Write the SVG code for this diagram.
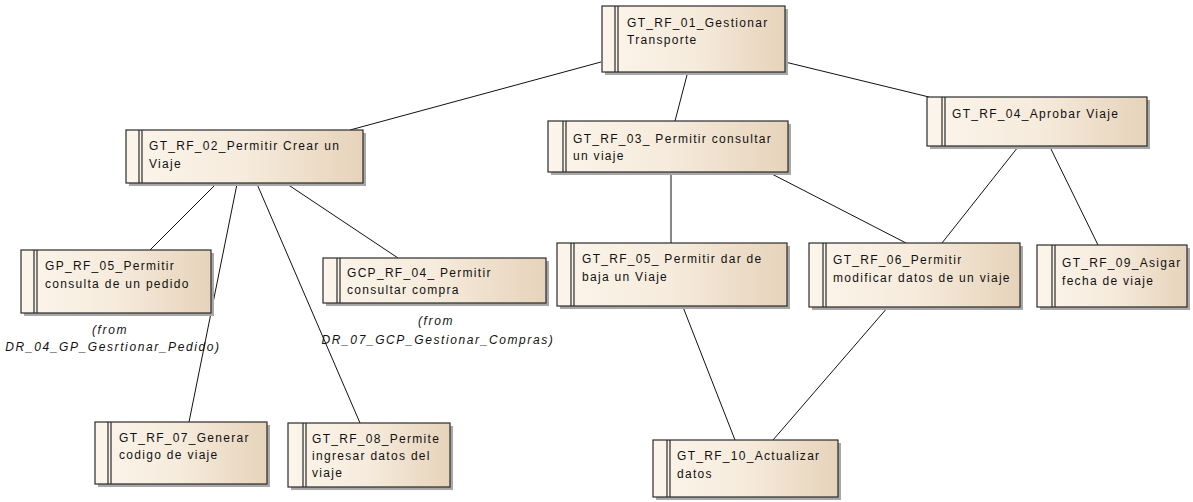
<svg xmlns="http://www.w3.org/2000/svg" width="1193" height="502" viewBox="0 0 1193 502">
<defs>
<linearGradient id="fillg" x1="0" y1="0" x2="1" y2="0">
<stop offset="0" stop-color="#FCF5EB"/>
<stop offset="0.5" stop-color="#F6EBDC"/>
<stop offset="1" stop-color="#E6D3BA"/>
</linearGradient>
</defs>
<style>
.shadow{fill:#A8A8A8;}
.box{fill:url(#fillg);stroke:#2b2b2b;stroke-width:1.2;}
.bar{stroke:#2b2b2b;stroke-width:1.2;}
.lbl{font-family:"Liberation Sans",Arial,sans-serif;font-size:12px;letter-spacing:1.3px;fill:#111;}
.from{font-family:"Liberation Sans",Arial,sans-serif;font-size:12px;font-style:italic;letter-spacing:1.6px;fill:#111;text-anchor:middle;}
.conn line{stroke:#111;stroke-width:1;}
</style>
<rect width="1193" height="502" fill="#ffffff"/>

<g id="connectors" class="conn">
<line x1="601" y1="62" x2="350" y2="130"/>
<line x1="687" y1="75" x2="675" y2="121"/>
<line x1="785" y1="62" x2="929" y2="97"/>
<line x1="216" y1="184" x2="150" y2="250"/>
<line x1="237" y1="184" x2="189" y2="422"/>
<line x1="257" y1="184" x2="360" y2="423"/>
<line x1="287" y1="184" x2="398" y2="258"/>
<line x1="671" y1="172" x2="671" y2="243"/>
<line x1="768" y1="172" x2="906" y2="243"/>
<line x1="1018" y1="147" x2="942" y2="243"/>
<line x1="1050" y1="147" x2="1098" y2="245"/>
<line x1="683" y1="307" x2="735" y2="440"/>
<line x1="888" y1="307" x2="773" y2="440"/>
</g>

<g id="GT_RF_01">
<rect class="shadow" x="605" y="9" width="183" height="66"/>
<rect class="box" x="602" y="6" width="183" height="66"/>
<line class="bar" x1="615" y1="6" x2="615" y2="72"/><line class="bar" x1="618" y1="6" x2="618" y2="72"/>
<text class="lbl" x="627" y="27">GT_RF_01_Gestionar</text>
<text class="lbl" x="627" y="44">Transporte</text>
</g>

<g id="GT_RF_02">
<rect class="shadow" x="129" y="133" width="237" height="53"/>
<rect class="box" x="126" y="130" width="237" height="53"/>
<line class="bar" x1="139" y1="130" x2="139" y2="183"/><line class="bar" x1="142" y1="130" x2="142" y2="183"/>
<text class="lbl" x="149" y="150">GT_RF_02_Permitir Crear un</text>
<text class="lbl" x="149" y="168">Viaje</text>
</g>

<g id="GT_RF_03">
<rect class="shadow" x="551" y="124" width="240" height="51"/>
<rect class="box" x="548" y="121" width="240" height="51"/>
<line class="bar" x1="563" y1="121" x2="563" y2="172"/><line class="bar" x1="566" y1="121" x2="566" y2="172"/>
<text class="lbl" x="573" y="143">GT_RF_03_ Permitir consultar</text>
<text class="lbl" x="573" y="160">un viaje</text>
</g>

<g id="GT_RF_04">
<rect class="shadow" x="930" y="100" width="220" height="49"/>
<rect class="box" x="927" y="97" width="220" height="49"/>
<line class="bar" x1="942" y1="97" x2="942" y2="146"/><line class="bar" x1="945" y1="97" x2="945" y2="146"/>
<text class="lbl" x="952" y="118">GT_RF_04_Aprobar Viaje</text>
</g>

<g id="GP_RF_05">
<rect class="shadow" x="24" y="253" width="190" height="63"/>
<rect class="box" x="21" y="250" width="190" height="63"/>
<line class="bar" x1="34" y1="250" x2="34" y2="313"/><line class="bar" x1="37" y1="250" x2="37" y2="313"/>
<text class="lbl" x="45" y="270">GP_RF_05_Permitir</text>
<text class="lbl" x="45" y="288">consulta de un pedido</text>
<text class="from" x="110" y="334">(from</text>
<text class="from" x="113" y="351">DR_04_GP_Gesrtionar_Pedido)</text>
</g>

<g id="GCP_RF_04">
<rect class="shadow" x="326" y="261" width="223" height="45"/>
<rect class="box" x="323" y="258" width="223" height="45"/>
<line class="bar" x1="337" y1="258" x2="337" y2="303"/><line class="bar" x1="340" y1="258" x2="340" y2="303"/>
<text class="lbl" x="347" y="277">GCP_RF_04_ Permitir</text>
<text class="lbl" x="347" y="294">consultar compra</text>
<text class="from" x="436" y="325">(from</text>
<text class="from" x="438" y="344">DR_07_GCP_Gestionar_Compras)</text>
</g>

<g id="GT_RF_05">
<rect class="shadow" x="560" y="246" width="230" height="63"/>
<rect class="box" x="557" y="243" width="230" height="63"/>
<line class="bar" x1="571" y1="243" x2="571" y2="306"/><line class="bar" x1="574" y1="243" x2="574" y2="306"/>
<text class="lbl" x="582" y="263">GT_RF_05_ Permitir dar de</text>
<text class="lbl" x="582" y="281">baja un Viaje</text>
</g>

<g id="GT_RF_06">
<rect class="shadow" x="812" y="246" width="211" height="64"/>
<rect class="box" x="809" y="243" width="211" height="64"/>
<line class="bar" x1="823" y1="243" x2="823" y2="307"/><line class="bar" x1="826" y1="243" x2="826" y2="307"/>
<text class="lbl" x="833" y="264">GT_RF_06_Permitir</text>
<text class="lbl" x="833" y="282">modificar datos de un viaje</text>
</g>

<g id="GT_RF_09">
<rect class="shadow" x="1040" y="248" width="150" height="62"/>
<rect class="box" x="1037" y="245" width="150" height="62"/>
<line class="bar" x1="1052" y1="245" x2="1052" y2="307"/><line class="bar" x1="1055" y1="245" x2="1055" y2="307"/>
<text class="lbl" x="1062" y="267">GT_RF_09_Asigar</text>
<text class="lbl" x="1062" y="285">fecha de viaje</text>
</g>

<g id="GT_RF_07">
<rect class="shadow" x="98" y="425" width="172" height="62"/>
<rect class="box" x="95" y="422" width="172" height="62"/>
<line class="bar" x1="108" y1="422" x2="108" y2="484"/><line class="bar" x1="111" y1="422" x2="111" y2="484"/>
<text class="lbl" x="119" y="442">GT_RF_07_Generar</text>
<text class="lbl" x="119" y="459">codigo de viaje</text>
</g>

<g id="GT_RF_08">
<rect class="shadow" x="291" y="426" width="162" height="64"/>
<rect class="box" x="288" y="423" width="162" height="64"/>
<line class="bar" x1="303" y1="423" x2="303" y2="487"/><line class="bar" x1="306" y1="423" x2="306" y2="487"/>
<text class="lbl" x="312" y="443">GT_RF_08_Permite</text>
<text class="lbl" x="312" y="460">ingresar datos del</text>
<text class="lbl" x="312" y="477">viaje</text>
</g>

<g id="GT_RF_10">
<rect class="shadow" x="656" y="443" width="185" height="57"/>
<rect class="box" x="653" y="440" width="185" height="57"/>
<line class="bar" x1="667" y1="440" x2="667" y2="497"/><line class="bar" x1="670" y1="440" x2="670" y2="497"/>
<text class="lbl" x="677" y="460">GT_RF_10_Actualizar</text>
<text class="lbl" x="677" y="478">datos</text>
</g>
</svg>
